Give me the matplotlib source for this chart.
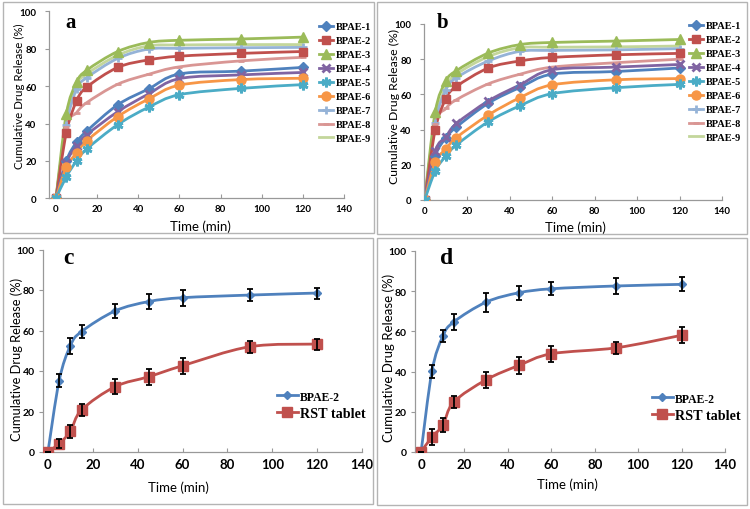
import numpy as np
import matplotlib
matplotlib.use("Agg")
import matplotlib.pyplot as plt
from matplotlib.path import Path
from matplotlib.patches import PathPatch, Rectangle
from matplotlib.lines import Line2D

plt.rcParams["font.family"] = ["Lato", "DejaVu Sans"]

# ==================== data ====================
time = [0, 5, 10, 15, 30, 45, 60, 90, 120]
names = ["BPAE-1", "BPAE-2", "BPAE-3", "BPAE-4", "BPAE-5",
         "BPAE-6", "BPAE-7", "BPAE-8", "BPAE-9"]

# panel a
a_1 = [0, 20, 30, 36, 50, 58.5, 66.5, 68, 70]
a_2 = [0, 35, 52, 59.5, 70, 74, 76, 77.5, 78.5]
a_3 = [0, 45, 62, 68.5, 78.5, 83.3, 84.5, 85.2, 86.2]
a_4 = [0, 19, 28, 34, 46.3, 55.8, 64, 66, 67.3]
a_5 = [0, 11.5, 20, 26.4, 39.4, 48.7, 55.4, 58.8, 60.8]
a_6 = [0, 16.6, 24.2, 30.8, 43.7, 53.1, 60.5, 63.5, 64.2]
a_7 = [0, 39, 58.5, 64.5, 74.8, 79.8, 80.2, 80.5, 80.7]
a_8 = [0, 38, 45.8, 51.2, 61, 66.3, 70.3, 73.5, 75.4]
a_9 = [0, 40, 60.5, 66.5, 76.5, 81.5, 82, 82.2, 82.2]

# panel b
b_1 = [0, 25, 35.3, 41.5, 55, 64, 71.5, 73, 75]
b_2 = [0, 40, 57.5, 64.5, 75, 79, 81, 82.5, 83.3]
b_3 = [0, 50, 67.5, 73.5, 83.5, 88.3, 89.5, 90.3, 91.2]
b_4 = [0, 28, 36, 43.5, 56.3, 65.5, 74, 75.5, 77]
b_5 = [0, 16.5, 25, 31.3, 44.5, 53.6, 60.4, 63.8, 65.7]
b_6 = [0, 21.5, 29, 35.5, 48.3, 58.2, 65.4, 68.3, 69]
b_7 = [0, 44, 62.5, 69.5, 79, 84.5, 85, 85.3, 86]
b_8 = [0, 43, 52, 57, 66, 71.5, 75.5, 78, 80]
b_9 = [0, 45, 64, 71.5, 81.5, 86.5, 86.8, 87, 87.5]

# panel c
c_bpae = [0, 35.2, 52.5, 59.5, 69.7, 74.3, 76.2, 77.5, 78.5]
c_bpae_err = [0, 3.1, 4, 3.3, 3.3, 3.7, 3.9, 2.9, 2.7]
c_rst = [0, 4.1, 10.2, 20.8, 32.3, 37.2, 42.6, 52, 53.3]
c_rst_err = [0, 2.2, 3.3, 3, 3.7, 4, 3.9, 3, 2.7]

# panel d
d_bpae = [0, 40.1, 57.5, 64.6, 74.5, 79.1, 81.1, 82.5, 83.3]
d_bpae_err = [0, 3.3, 3, 4, 4.7, 3.5, 3.3, 4, 3.5]
d_rst = [0, 7.5, 13.2, 24.8, 35.9, 43, 48.8, 51.8, 58]
d_rst_err = [0, 4, 3.5, 3, 4, 4, 4, 3, 4]

colors = ["#4F81BD", "#C0504D", "#9BBB59", "#8064A2", "#4BACC6",
          "#F79646", "#95B3D7", "#D99694", "#C3D69B"]
markers = ["D", "s", "^", "x", (6, 2, 0), "o", "+", "_", "None"]
msizes = [5, 6, 6.5, 6, 7, 6.5, 6, 5, 0]
thin_markers = ["x", "+", "_", (6, 2, 0)]

W, H = 750, 510


def px_rect(l, r, top, bot):
    return [l / W, 1 - bot / H, (r - l) / W, (bot - top) / H]


def smooth_path(x, y):
    # Excel 风格的平滑线：过数据点的三次贝塞尔
    x = np.asarray(x, float)
    y = np.asarray(y, float)
    n = len(x)
    verts = [(x[0], y[0])]
    codes = [Path.MOVETO]
    for i in range(n - 1):
        i0 = max(i - 1, 0)
        i3 = min(i + 2, n - 1)
        c1 = (x[i] + (x[i + 1] - x[i0]) / 6, y[i] + (y[i + 1] - y[i0]) / 6)
        c2 = (x[i + 1] - (x[i3] - x[i]) / 6, y[i + 1] - (y[i3] - y[i]) / 6)
        verts += [c1, c2, (x[i + 1], y[i + 1])]
        codes += [Path.CURVE4] * 3
    return Path(verts, codes)


def style_axes(ax, xmin, tick_size_x, tick_size_y, ypad):
    ax.set_xlim(xmin, 140)
    ax.set_ylim(0, 100)
    ax.set_xticks(range(0, 141, 20))
    ax.set_yticks(range(0, 101, 20))
    for s in ["top", "right"]:
        ax.spines[s].set_visible(False)
    for s in ["left", "bottom"]:
        ax.spines[s].set_color("#999999")
        ax.spines[s].set_linewidth(0.9)
    ax.tick_params(axis="x", direction="in", length=3, color="#999999",
                   labelsize=tick_size_x, pad=4)
    ax.tick_params(axis="y", direction="out", length=3, color="#999999",
                   labelsize=tick_size_y, pad=ypad)
    for lab in ax.get_xticklabels() + ax.get_yticklabels():
        lab.set_fontweight("bold")
    ax.patch.set_alpha(0)


def draw_line(ax, y, color, marker, ms, lw=2.0):
    ax.add_patch(PathPatch(smooth_path(time, y), fill=False, edgecolor=color,
                           lw=lw, zorder=2, capstyle="round"))
    if marker != "None":
        ax.plot(time, y, linestyle="none", marker=marker, ms=ms, color=color,
                mec=color, mew=2 if marker in thin_markers else 1, zorder=3)


fig = plt.figure(figsize=(W / 100, H / 100), dpi=100)

# 面板边框
for (l, t, r, b) in [(3, 3, 374, 234), (377, 3, 747, 235),
                     (3, 239, 373, 505), (377, 239, 747, 506)]:
    fig.patches.append(Rectangle((l / W, 1 - b / H), (r - l) / W, (b - t) / H,
                                 transform=fig.transFigure, fill=False,
                                 edgecolor="#b4b4b4", lw=1.0))

ax_a = fig.add_axes(px_rect(49, 344, 12.3, 199.3))
ax_b = fig.add_axes(px_rect(424, 722, 25, 201))
ax_c = fig.add_axes(px_rect(43, 362, 250.5, 453))
ax_d = fig.add_axes(px_rect(415, 725, 251.75, 453))

serif = ["Liberation Serif", "DejaVu Serif"]
legend_font = {"family": serif, "weight": "bold", "size": 7.5}

for ax, series, xmin, leg_xy in [
        (ax_a, [a_1, a_2, a_3, a_4, a_5, a_6, a_7, a_8, a_9], -3.4, (319, 23)),
        (ax_b, [b_1, b_2, b_3, b_4, b_5, b_6, b_7, b_8, b_9], -0.3, (689, 22))]:
    style_axes(ax, xmin, 7, 7, 6)
    # 先画浅色，再画深色
    for k in [8, 6, 7, 2, 1, 0, 3, 5, 4]:
        draw_line(ax, series[k], colors[k], markers[k], msizes[k])
    handles = [Line2D([], [], color=colors[k], lw=2, marker=markers[k],
                      ms=msizes[k], mew=2 if markers[k] in thin_markers else 1)
               for k in range(9)]
    ax.legend(handles, names, loc="upper left",
              bbox_to_anchor=(leg_xy[0] / W, 1 - leg_xy[1] / H),
              bbox_transform=fig.transFigure, frameon=False,
              handlelength=1.35, handletextpad=0.25, labelspacing=0.45,
              borderpad=0, borderaxespad=0, prop=legend_font)

for ax, yb, eb, yr, er, xmin, leg_xy in [
        (ax_c, c_bpae, c_bpae_err, c_rst, c_rst_err, -2.2, (277, 391)),
        (ax_d, d_bpae, d_bpae_err, d_rst, d_rst_err, -2.8, (652, 393))]:
    style_axes(ax, xmin, 9.5, 7.5, 3)
    draw_line(ax, yb, "#4F81BD", "D", 4.5)
    draw_line(ax, yr, "#C0504D", "s", 7)
    ax.errorbar(time, yb, yerr=eb, fmt="none", ecolor="black", elinewidth=1.3,
                capsize=2, capthick=1.3, zorder=4)
    ax.errorbar(time, yr, yerr=er, fmt="none", ecolor="black", elinewidth=1.3,
                capsize=2, capthick=1.3, zorder=4)
    h1 = Line2D([], [], color="#4F81BD", lw=2, marker="D", ms=4.5)
    h2 = Line2D([], [], color="#C0504D", lw=2, marker="s", ms=7)
    leg = ax.legend([h1, h2], ["BPAE-2", "RST tablet"], loc="upper left",
                    bbox_to_anchor=(leg_xy[0] / W, 1 - leg_xy[1] / H),
                    bbox_transform=fig.transFigure, frameon=False,
                    handlelength=1.5, handletextpad=0.15, labelspacing=0.3,
                    borderpad=0, borderaxespad=0,
                    prop={"family": serif, "weight": "bold", "size": 10})
    leg.get_texts()[0].set_fontsize(8.5)
    leg.get_texts()[1].set_fontsize(10.2)

# 面板字母
for letter, x, y, size in [("a", 71, 23, 15), ("b", 443, 23, 15),
                           ("c", 68, 259, 17), ("d", 447, 258, 17)]:
    fig.text(x / W, 1 - y / H, letter, ha="center", va="center",
             family=serif, weight="bold", size=size)

# 坐标轴标题
for x, y, size in [(19, 96, 8.3), (394, 107, 8.8), (17, 359, 9.3), (389, 357.5, 9.5)]:
    fig.text(x / W, 1 - y / H, "Cumulative Drug Release (%)", rotation=90,
             ha="center", va="center", size=size)
for x, y in [(200, 227), (575, 228), (178, 488), (567, 485)]:
    fig.text(x / W, 1 - y / H, "Time (min)", ha="center", va="center", size=9.5)

fig.savefig("out.png", dpi=100)
